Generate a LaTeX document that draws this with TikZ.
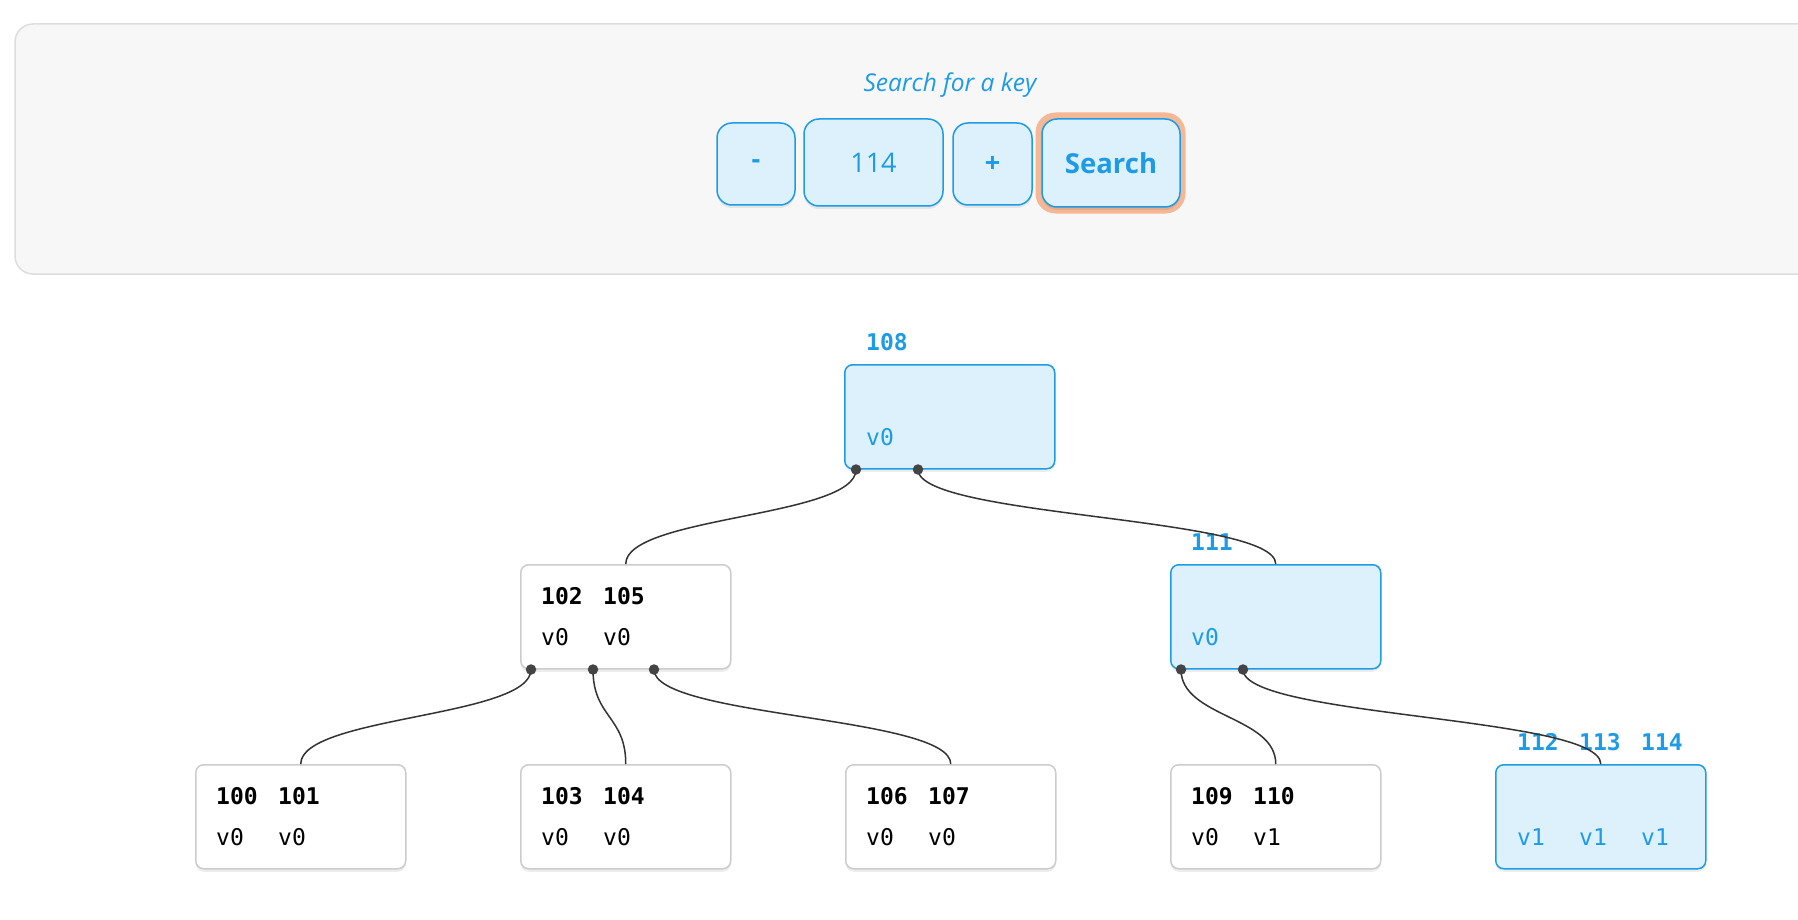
\documentclass[tikz,border=0pt]{standalone}
\usepackage{fontspec}
\setmainfont{Open Sans}
\newfontfamily\monofont{DejaVu Sans Mono}
\usetikzlibrary{calc,shadows}
\definecolor{uiblue}{HTML}{1D9BE5}
\definecolor{uifill}{HTML}{DDF1FD}
\definecolor{panelfill}{HTML}{F7F7F7}
\definecolor{panelborder}{HTML}{DDDDDD}
\definecolor{boxborder}{HTML}{CCCCCC}
\definecolor{ringcol}{HTML}{F5B896}
\definecolor{linkcol}{HTML}{333333}
\definecolor{dotcol}{HTML}{444444}
\tikzset{
  softshadow/.style={drop shadow={shadow xshift=0pt, shadow yshift=-3pt, opacity=0.07, fill=black}},
  panel/.style={draw=panelborder, fill=panelfill, line width=1.5pt, rounded corners=18pt},
  btn/.style={draw=uiblue, fill=uifill, line width=1.5pt, rounded corners=15pt, inner sep=0pt, text=uiblue, softshadow},
  ring/.style={fill=ringcol, rounded corners=20pt, inner sep=0pt},
  treebox/.style={draw=boxborder, fill=white, line width=1.5pt, rounded corners=8pt, minimum width=210pt, minimum height=104pt, anchor=north west, inner sep=0pt, softshadow},
  hlbox/.style={treebox, draw=uiblue, fill=uifill},
  keytxt/.style={anchor=base west, inner sep=0pt, font=\monofont\bfseries\fontsize{23}{23}\selectfont},
  valtxt/.style={anchor=base west, inner sep=0pt, font=\monofont\fontsize{23}{23}\selectfont},
  link/.style={draw=linkcol, line width=1.5pt},
  dot/.style={circle, fill=dotcol, inner sep=0pt, minimum size=10.5pt},
}
\begin{document}
\begin{tikzpicture}[x=1pt,y=-1pt]
\useasboundingbox (0,0) rectangle (1798,920);
\clip (0,0) rectangle (1798,920);
% top panel
\draw[panel] (15,24) rectangle (1840,274);
\node[text=uiblue, font=\itshape\fontsize{24.5}{24.5}\selectfont, inner sep=0pt] (title) at (950,85) {Search for a key};
\node[btn, minimum width=78pt, minimum height=82pt, font=\bfseries\fontsize{27}{27}\selectfont] (minus) at (756,164) {-};
\node[btn, minimum width=139pt, minimum height=87pt, font=\fontsize{27}{27}\selectfont] (value) at (873.5,162.5) {114};
\node[btn, minimum width=79pt, minimum height=82pt, font=\bfseries\fontsize{27}{27}\selectfont] (plus) at (992.5,164) {+};
\node[ring, minimum width=150pt, minimum height=101pt] (ringn) at (1110.5,163) {};
\node[btn, minimum width=138pt, minimum height=88pt, font=\bfseries\fontsize{27.5}{27.5}\selectfont] (search) at (1111,163) {Search};

% tree boxes
\node[hlbox] (root) at (844,364) {};
\node[treebox] (L) at (520,564) {};
\node[hlbox] (R) at (1170,564) {};
\node[treebox] (LL) at (195,764) {};
\node[treebox] (LM) at (520,764) {};
\node[treebox] (LR) at (845,764) {};
\node[treebox] (RL) at (1170,764) {};
\node[hlbox] (RR) at (1495,764) {};

% texts
\node[keytxt, text=uiblue] (k108) at ($(root.north west)+(22,-14)$) {108};
\node[valtxt, text=uiblue] (v108) at ($(root.north west)+(22,81)$) {v0};

\node[keytxt] (k102) at ($(L.north west)+(21,40)$) {102};
\node[keytxt] (k105) at ($(L.north west)+(83,40)$) {105};
\node[valtxt] (v102) at ($(L.north west)+(21,81)$) {v0};
\node[valtxt] (v105) at ($(L.north west)+(83,81)$) {v0};

\node[keytxt, text=uiblue] (k111) at ($(R.north west)+(21,-14)$) {111};
\node[valtxt, text=uiblue] (v111) at ($(R.north west)+(21,81)$) {v0};

\node[keytxt] (k100) at ($(LL.north west)+(21,40)$) {100};
\node[keytxt] (k101) at ($(LL.north west)+(83,40)$) {101};
\node[valtxt] (v100) at ($(LL.north west)+(21,81)$) {v0};
\node[valtxt] (v101) at ($(LL.north west)+(83,81)$) {v0};

\node[keytxt] (k103) at ($(LM.north west)+(21,40)$) {103};
\node[keytxt] (k104) at ($(LM.north west)+(83,40)$) {104};
\node[valtxt] (v103) at ($(LM.north west)+(21,81)$) {v0};
\node[valtxt] (v104) at ($(LM.north west)+(83,81)$) {v0};

\node[keytxt] (k106) at ($(LR.north west)+(21,40)$) {106};
\node[keytxt] (k107) at ($(LR.north west)+(83,40)$) {107};
\node[valtxt] (v106) at ($(LR.north west)+(21,81)$) {v0};
\node[valtxt] (v107) at ($(LR.north west)+(83,81)$) {v0};

\node[keytxt] (k109) at ($(RL.north west)+(21,40)$) {109};
\node[keytxt] (k110) at ($(RL.north west)+(83,40)$) {110};
\node[valtxt] (v109) at ($(RL.north west)+(21,81)$) {v0};
\node[valtxt] (v110) at ($(RL.north west)+(83,81)$) {v1};

\node[keytxt, text=uiblue] (k112) at ($(RR.north west)+(22,-14)$) {112};
\node[keytxt, text=uiblue] (k113) at ($(RR.north west)+(84,-14)$) {113};
\node[keytxt, text=uiblue] (k114) at ($(RR.north west)+(146,-14)$) {114};
\node[valtxt, text=uiblue] (v112) at ($(RR.north west)+(22,81)$) {v1};
\node[valtxt, text=uiblue] (v113) at ($(RR.north west)+(84,81)$) {v1};
\node[valtxt, text=uiblue] (v114) at ($(RR.north west)+(146,81)$) {v1};

% dot coordinates
\coordinate (r0) at ($(root.south west)+(12,0)$);
\coordinate (r1) at ($(root.south west)+(74,0)$);
\coordinate (l0) at ($(L.south west)+(11,0)$);
\coordinate (l1) at ($(L.south west)+(73,0)$);
\coordinate (l2) at ($(L.south west)+(134,0)$);
\coordinate (q0) at ($(R.south west)+(11,0)$);
\coordinate (q1) at ($(R.south west)+(73,0)$);

% links
\draw[link] (r0) .. controls +(0,48) and +(0,-48) .. (L.north);
\draw[link] (r1) .. controls +(0,48) and +(0,-48) .. (R.north);
\draw[link] (l0) .. controls +(0,48) and +(0,-48) .. (LL.north);
\draw[link] (l1) .. controls +(0,48) and +(0,-48) .. (LM.north);
\draw[link] (l2) .. controls +(0,48) and +(0,-48) .. (LR.north);
\draw[link] (q0) .. controls +(0,48) and +(0,-48) .. (RL.north);
\draw[link] (q1) .. controls +(0,48) and +(0,-48) .. (RR.north);

% dots
\foreach \d in {r0,r1,l0,l1,l2,q0,q1} { \node[dot] (dot-\d) at (\d) {}; }
\end{tikzpicture}
\end{document}
